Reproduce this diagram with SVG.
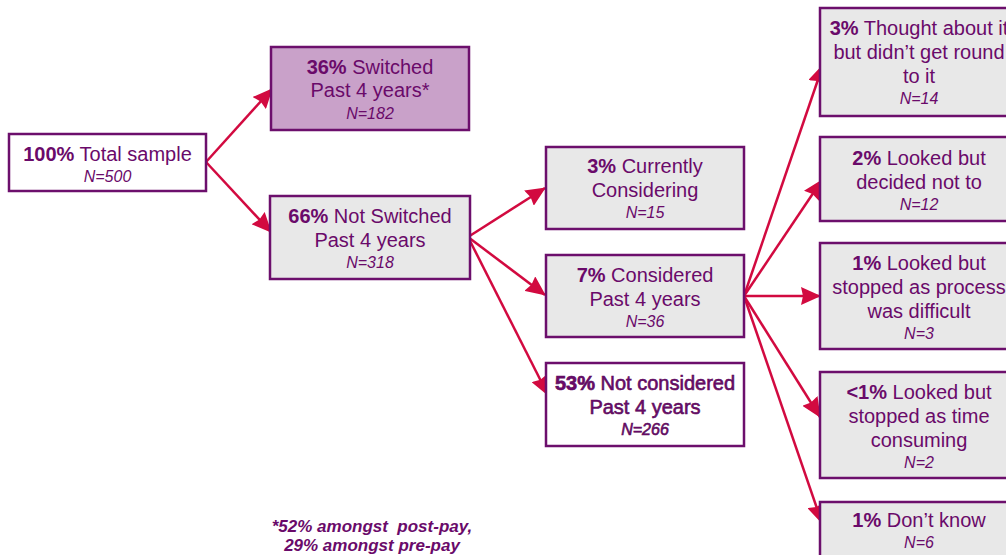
<svg xmlns="http://www.w3.org/2000/svg" width="1006" height="555" viewBox="0 0 1006 555">
<style>
.box{fill:#e8e8e8;stroke:#6c0f6c;stroke-width:2.5}
.sw{fill:#c9a1c9}
.wh{fill:#ffffff}
text{font-family:"Liberation Sans",Arial,sans-serif;fill:#6a0a6a;text-anchor:middle}
.t{font-size:20px}
.n{font-size:16px;font-style:italic}
.b{font-weight:bold}
.dk{stroke:#5a0a5a;stroke-width:0.6}
.foot{font-size:17px;font-style:italic;font-weight:bold;fill:#6a0a6a;white-space:pre}
.con line{stroke:#d20a40;stroke-width:2.5;marker-end:url(#ah)}
</style>
<defs>
<marker id="ah" markerUnits="userSpaceOnUse" viewBox="0 0 20 18" markerWidth="20" markerHeight="18" refX="19" refY="9" orient="auto">
<path d="M0,0 L20,9 L0,18 L2,9 z" fill="#d20a40"/>
</marker>
</defs>
<rect width="1006" height="555" fill="#ffffff"/>

<g id="connectors" class="con">
<line x1="206" y1="162" x2="272" y2="89"/>
<line x1="206" y1="162" x2="271" y2="232"/>
<line x1="468" y1="237" x2="545" y2="188"/>
<line x1="468" y1="237" x2="545" y2="295"/>
<line x1="468" y1="237" x2="548" y2="395"/>
<line x1="744" y1="296" x2="823" y2="65"/>
<line x1="744" y1="296" x2="822" y2="180"/>
<line x1="744" y1="296" x2="820" y2="296"/>
<line x1="744" y1="296" x2="820" y2="417"/>
<line x1="744" y1="296" x2="822" y2="523"/>
</g>

<g id="total">
<rect class="box wh" x="9" y="134" width="197" height="57"/>
<text class="t" x="107.5" y="161"><tspan class="b">100%</tspan> Total sample</text>
<text class="n" x="107.5" y="182">N=500</text>
</g>

<g id="switched">
<rect class="box sw" x="271" y="47" width="198" height="83"/>
<text class="t" x="370" y="74"><tspan class="b">36%</tspan> Switched</text>
<text class="t" x="370" y="97">Past 4 years*</text>
<text class="n" x="370" y="119">N=182</text>
</g>

<g id="notswitched">
<rect class="box" x="270" y="196" width="200" height="83"/>
<text class="t" x="370" y="223"><tspan class="b">66%</tspan> Not Switched</text>
<text class="t" x="370" y="247">Past 4 years</text>
<text class="n" x="370" y="268">N=318</text>
</g>

<g id="currently">
<rect class="box" x="546" y="147" width="198" height="82"/>
<text class="t" x="645" y="173"><tspan class="b">3%</tspan> Currently</text>
<text class="t" x="645" y="197">Considering</text>
<text class="n" x="645" y="218">N=15</text>
</g>

<g id="considered">
<rect class="box" x="546" y="255" width="198" height="82"/>
<text class="t" x="645" y="282"><tspan class="b">7%</tspan> Considered</text>
<text class="t" x="645" y="306">Past 4 years</text>
<text class="n" x="645" y="327">N=36</text>
</g>

<g id="notconsidered">
<rect class="box wh" x="546" y="363" width="198" height="83"/>
<text class="t dk" x="645" y="390"><tspan class="b">53%</tspan> Not considered</text>
<text class="t dk" x="645" y="414">Past 4 years</text>
<text class="n dk" x="645" y="435">N=266</text>
</g>

<g id="thought">
<rect class="box" x="820" y="8" width="198" height="108"/>
<text class="t" x="919" y="35"><tspan class="b">3%</tspan> Thought about it</text>
<text class="t" x="919" y="59">but didn’t get round</text>
<text class="t" x="919" y="83">to it</text>
<text class="n" x="919" y="104">N=14</text>
</g>

<g id="decided">
<rect class="box" x="820" y="137" width="198" height="84"/>
<text class="t" x="919" y="165"><tspan class="b">2%</tspan> Looked but</text>
<text class="t" x="919" y="189">decided not to</text>
<text class="n" x="919" y="210">N=12</text>
</g>

<g id="difficult">
<rect class="box" x="820" y="243" width="198" height="106"/>
<text class="t" x="919" y="270"><tspan class="b">1%</tspan> Looked but</text>
<text class="t" x="919" y="294">stopped as process</text>
<text class="t" x="919" y="318">was difficult</text>
<text class="n" x="919" y="339">N=3</text>
</g>

<g id="timeconsuming">
<rect class="box" x="820" y="372" width="198" height="106"/>
<text class="t" x="919" y="399"><tspan class="b">&lt;1%</tspan> Looked but</text>
<text class="t" x="919" y="423">stopped as time</text>
<text class="t" x="919" y="447">consuming</text>
<text class="n" x="919" y="468">N=2</text>
</g>

<g id="dontknow">
<rect class="box" x="820" y="502" width="198" height="70"/>
<text class="t" x="919" y="527"><tspan class="b">1%</tspan> Don’t know</text>
<text class="n" x="919" y="548">N=6</text>
</g>

<g id="footnote">
<text class="foot" x="372" y="532">*52% amongst  post-pay,</text>
<text class="foot" x="372" y="551">29% amongst pre-pay</text>
</g>
</svg>
